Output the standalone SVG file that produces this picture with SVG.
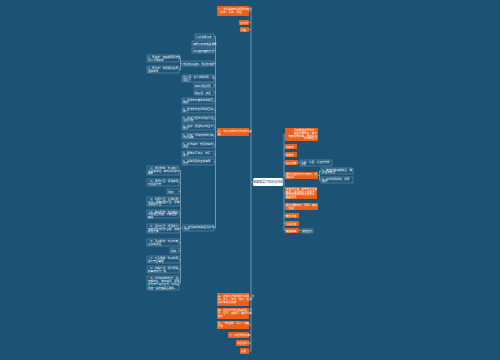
<svg xmlns="http://www.w3.org/2000/svg" width="500" height="360" viewBox="0 0 500 360">
<style>
.o{fill:#e8601c}
.d{fill:#1d567a;stroke:#8db0c8;stroke-width:0.4}
.t{fill:#ffffff;font-family:"Noto Sans CJK SC","Liberation Sans",sans-serif;font-size:2.6px}
.r{fill:#1c3a52;font-family:"Noto Sans CJK SC","Liberation Sans",sans-serif;font-size:3px}
.ln{stroke:#c8dbe8;stroke-width:0.5;fill:none}
</style>
<rect width="500" height="360" fill="#1c5273"/>
<g id="connectors">
<path class="ln" d="M251,11V351"/>
<path class="ln" d="M249,11H251M249,22.5H251M249,29.5H251M249,132H251M249,299.5H251M249,313.5H251M249,325H251M249,335H251M249,343H251M249,351H251M251,182H253"/>
<path class="ln" d="M215.5,36.5V228M217,132H215.5"/>
<path class="ln" d="M214,36.5H215.5M214,43.5H215.5M214,50.5H215.5M214,63.5H215.5M214,78.5H215.5M214,85.5H215.5M214,92.5H215.5M214,101H215.5M214,110H215.5M214,119H215.5M214,127H215.5M214,136H215.5M214,145H215.5M214,154H215.5M214,162H215.5M214,228H215.5"/>
<path class="ln" d="M180.5,58.5V69.5M182,63.5H180.5M179,58.5H180.5M179,69.5H180.5"/>
<path class="ln" d="M180.5,170.5V283M183,228H180.5M179,170.5H180.5M179,182.5H180.5M179,191.5H180.5M179,201.5H180.5M179,214H180.5M179,228.5H180.5M179,242.5H180.5M179,250.5H180.5M179,259.5H180.5M179,269.5H180.5M179,283H180.5"/>
<path class="ln" d="M283,182H284M284,134.5V230.5M284,134.5H285M284,146.5H285M284,154.5H285M284,162.5H285M284,175.5H285M284,193H285M284,206.5H285M284,215.5H285M284,223.5H285M284,230.5H285"/>
<path class="ln" d="M298,162.5H300M318,175.5H319.5M319.5,171V180M319.5,171H321M319.5,180H321M299,230.5H301"/>
</g>
<g id="root"><rect x="253" y="178" width="30" height="8" rx="1.5" fill="#ffffff"/><text class="r" x="268" y="183.2" text-anchor="middle">部编版语文知识点归纳</text></g>
<g id="L1"><rect class="o" x="217" y="6" width="32" height="10"/><text class="t" x="218" y="10">一、字词基础知识积累与运用</text><text class="t" x="218" y="13.2">（识字、写字、词语）</text></g>
<g id="L2"><rect class="o" x="239" y="20" width="10" height="5"/><text class="t" x="240" y="23.5">古诗词</text></g>
<g id="L3"><rect class="o" x="240" y="27" width="9" height="5"/><text class="t" x="241" y="30.5">阅读</text></g>
<g id="L4"><rect class="o" x="217" y="128" width="32" height="8"/><text class="t" x="218" y="131.5">二、句子训练的方法与技巧总</text><text class="t" x="218" y="134.7">结</text></g>
<g id="L5"><rect class="o" x="217" y="293" width="32" height="13"/><text class="t" x="218" y="296.6">三、修辞手法的辨析与运用，比</text><text class="t" x="218" y="299.6">喻、拟人、夸张、排比、反问、</text><text class="t" x="218" y="302.6">设问等常见修辞</text></g>
<g id="L6"><rect class="o" x="217" y="308" width="32" height="11"/><text class="t" x="218" y="311.4">四、标点符号的正确使用，引</text><text class="t" x="218" y="314.4">号、冒号、省略号、破折号的</text><text class="t" x="218" y="317.4">用法</text></g>
<g id="L7"><rect class="o" x="217" y="321" width="32" height="8"/><text class="t" x="218" y="324.4">五、习作指导：写人、记事、</text><text class="t" x="218" y="327.4">写景</text></g>
<g id="L8"><rect class="o" x="228" y="332" width="21" height="6"/><text class="t" x="229" y="335.9">六、口语交际训练</text></g>
<g id="L9"><rect class="o" x="236" y="340" width="13" height="6"/><text class="t" x="237" y="343.9">综合性学习</text></g>
<g id="L10"><rect class="o" x="240" y="348" width="9" height="6"/><text class="t" x="241" y="351.9">名著</text></g>
<g id="c1"><rect class="d" x="195" y="34" width="19" height="5"/><text class="t" x="196" y="37.5">认识常用汉字</text></g>
<g id="c2"><rect class="d" x="192" y="41" width="22" height="5"/><text class="t" x="193" y="44.5">掌握汉字的笔画笔顺</text></g>
<g id="c3"><rect class="d" x="192" y="48" width="22" height="5"/><text class="t" x="193" y="51.5">学会查字典的方法</text></g>
<g id="c4"><rect class="d" x="182" y="61" width="32" height="5"/><text class="t" x="183" y="64.5">常见的多音字、形近字辨析</text></g>
<g id="c4a"><rect class="d" x="147" y="55" width="32" height="7"/><text class="t" x="148" y="58">1、同音字：读音相同而字形</text><text class="t" x="148" y="60.8">意义不同的字</text></g>
<g id="c4b"><rect class="d" x="147" y="66" width="32" height="7"/><text class="t" x="148" y="69">2、形近字：字形相近容易</text><text class="t" x="148" y="71.8">混淆的字</text></g>
<g id="c5"><rect class="d" x="182" y="75" width="32" height="7"/><text class="t" x="183" y="78">近义词、反义词的积累，注</text><text class="t" x="183" y="80.8">意区分</text></g>
<g id="c6"><rect class="d" x="194" y="83" width="20" height="5"/><text class="t" x="195" y="86.5">四字词语积累</text></g>
<g id="c7"><rect class="d" x="194" y="90" width="20" height="5"/><text class="t" x="195" y="93.5">歇后语、谚语</text></g>
<g id="c8"><rect class="d" x="182" y="98" width="32" height="6"/><text class="t" x="183" y="100.6">1、把字句与被字句的相互</text><text class="t" x="183" y="103.2">转换</text></g>
<g id="c9"><rect class="d" x="182" y="107" width="32" height="6"/><text class="t" x="183" y="109.6">2、陈述句与反问句的互换</text><text class="t" x="183" y="112.2">练习</text></g>
<g id="c10"><rect class="d" x="182" y="116" width="32" height="6"/><text class="t" x="183" y="118.6">3、直接引语改为间接引语，</text><text class="t" x="183" y="121.2">注意人称</text></g>
<g id="c11"><rect class="d" x="182" y="124" width="32" height="6"/><text class="t" x="183" y="126.6">4、缩句：保留句子的主干</text><text class="t" x="183" y="129.2">部分</text></g>
<g id="c12"><rect class="d" x="182" y="133" width="32" height="6"/><text class="t" x="183" y="135.6">5、扩句：添加修饰成分使</text><text class="t" x="183" y="138.2">句子具体</text></g>
<g id="c13"><rect class="d" x="182" y="142" width="32" height="6"/><text class="t" x="183" y="144.6">6、修改病句：常见的病句</text><text class="t" x="183" y="147.2">类型</text></g>
<g id="c14"><rect class="d" x="182" y="151" width="32" height="6"/><text class="t" x="183" y="153.6">7、照样子写句子，仿写</text><text class="t" x="183" y="156.2">练习</text></g>
<g id="c15"><rect class="d" x="182" y="159" width="32" height="6"/><text class="t" x="183" y="161.6">8、关联词语的正确使用</text><text class="t" x="183" y="164.2">方法</text></g>
<g id="c16"><rect class="d" x="183" y="225" width="31" height="6"/><text class="t" x="184" y="227.6">9、常见病句的类型及修改</text><text class="t" x="184" y="230.2">方法</text></g>
<g id="g1"><rect class="d" x="147" y="166" width="32" height="9"/><text class="t" x="148" y="168.9">（1）成分残缺：句子缺少</text><text class="t" x="148" y="171.6">主语或谓语，使句子意思不</text><text class="t" x="148" y="174.3">完整</text></g>
<g id="g2"><rect class="d" x="147" y="179" width="32" height="7"/><text class="t" x="148" y="182">（2）用词不当：词语使用</text><text class="t" x="148" y="184.8">与语境不符</text></g>
<g id="g3"><rect class="d" x="167" y="189" width="12" height="5"/><text class="t" x="168" y="192.5">例如：</text></g>
<g id="g4"><rect class="d" x="147" y="197" width="32" height="9"/><text class="t" x="148" y="199.9">（3）搭配不当：主谓搭配</text><text class="t" x="148" y="202.6">不当、动宾搭配不当、修饰</text><text class="t" x="148" y="205.3">语搭配不当</text></g>
<g id="g5"><rect class="d" x="147" y="210" width="32" height="8"/><text class="t" x="148" y="212.7">（4）前后矛盾：句子前后</text><text class="t" x="148" y="215.2">意思相互矛盾，不能自圆</text><text class="t" x="148" y="217.7">其说</text></g>
<g id="g6"><rect class="d" x="147" y="224" width="32" height="9"/><text class="t" x="148" y="226.9">（5）语序不当：词语或分</text><text class="t" x="148" y="229.6">句的顺序排列不合理，造成</text><text class="t" x="148" y="232.3">表达不清</text></g>
<g id="g7"><rect class="d" x="147" y="239" width="32" height="7"/><text class="t" x="148" y="242">（6）重复啰嗦：句子中有</text><text class="t" x="148" y="244.8">多余的词语</text></g>
<g id="g8"><rect class="d" x="170" y="248" width="9" height="5"/><text class="t" x="171" y="251.5">例如</text></g>
<g id="g9"><rect class="d" x="147" y="256" width="32" height="7"/><text class="t" x="148" y="259">（7）不合逻辑：句子的意</text><text class="t" x="148" y="261.8">思不符合事理</text></g>
<g id="g10"><rect class="d" x="147" y="266" width="32" height="7"/><text class="t" x="148" y="269">（8）归类不当：把不同类</text><text class="t" x="148" y="271.8">的事物归为一类</text></g>
<g id="g11"><rect class="d" x="147" y="276" width="32" height="14"/><text class="t" x="148" y="279.2">（9）修改病句的方法：先</text><text class="t" x="148" y="282.3">读懂句子，找出病因，再用</text><text class="t" x="148" y="285.4">修改符号进行修改，修改后</text><text class="t" x="148" y="288.5">再读一遍检查是否通顺。</text></g>
<g id="r1"><rect class="o" x="285" y="128" width="33" height="13"/><text class="t" x="317" y="131" text-anchor="end">阅读理解答题方法，</text><text class="t" x="317" y="133.8" text-anchor="end">概括主要内容、体会</text><text class="t" x="317" y="136.6" text-anchor="end">作者思想感情、理解重点</text><text class="t" x="317" y="139.4" text-anchor="end">词句的含义</text></g>
<g id="r2"><rect class="o" x="285" y="144" width="12" height="5"/><text class="t" x="286" y="147.5">记叙文</text></g>
<g id="r3"><rect class="o" x="285" y="152" width="12" height="5"/><text class="t" x="286" y="155.5">说明文</text></g>
<g id="r4"><rect class="o" x="285" y="160" width="13" height="5"/><text class="t" x="286" y="163.5">议论文体</text></g>
<g id="r4a"><rect class="d" x="300" y="160" width="32" height="6"/><text class="t" x="301" y="162.6">论点、论据、论证方法的</text><text class="t" x="301" y="165.2">分析</text></g>
<g id="r5"><rect class="o" x="285" y="172" width="33" height="7"/><text class="t" x="286" y="175">课外阅读的方法与技巧，积</text><text class="t" x="286" y="177.8">累好词</text></g>
<g id="r5a"><rect class="d" x="321" y="168" width="32" height="6"/><text class="t" x="322" y="170.6">1、精读与略读相结合，做</text><text class="t" x="322" y="173.2">好读书笔记</text></g>
<g id="r5b"><rect class="d" x="321" y="177" width="32" height="6"/><text class="t" x="322" y="179.6">2、摘抄好词好句，积累</text><text class="t" x="322" y="182.2">素材</text></g>
<g id="r6"><rect class="o" x="285" y="187" width="32" height="12"/><text class="t" x="286" y="189.9">文言文阅读：掌握常见文言</text><text class="t" x="286" y="192.6">实词、虚词的意义和用法，</text><text class="t" x="286" y="195.3">能够翻译简单的文言句子，</text><text class="t" x="286" y="198">理解文意</text></g>
<g id="r7"><rect class="o" x="285" y="203" width="33" height="7"/><text class="t" x="286" y="206">现代诗歌鉴赏：意象、情感</text><text class="t" x="286" y="208.8">、语言</text></g>
<g id="r8"><rect class="o" x="285" y="213" width="14" height="5"/><text class="t" x="286" y="216.5">散文阅读</text></g>
<g id="r9"><rect class="o" x="285" y="221" width="14" height="5"/><text class="t" x="286" y="224.5">小说阅读</text></g>
<g id="r10"><rect class="o" x="285" y="228" width="14" height="5"/><text class="t" x="286" y="231.5">寓言故事</text></g>
<g id="r10a"><rect class="d" x="301" y="229" width="12" height="4"/><text class="t" x="302" y="231.9">道理启示</text></g>
</svg>
